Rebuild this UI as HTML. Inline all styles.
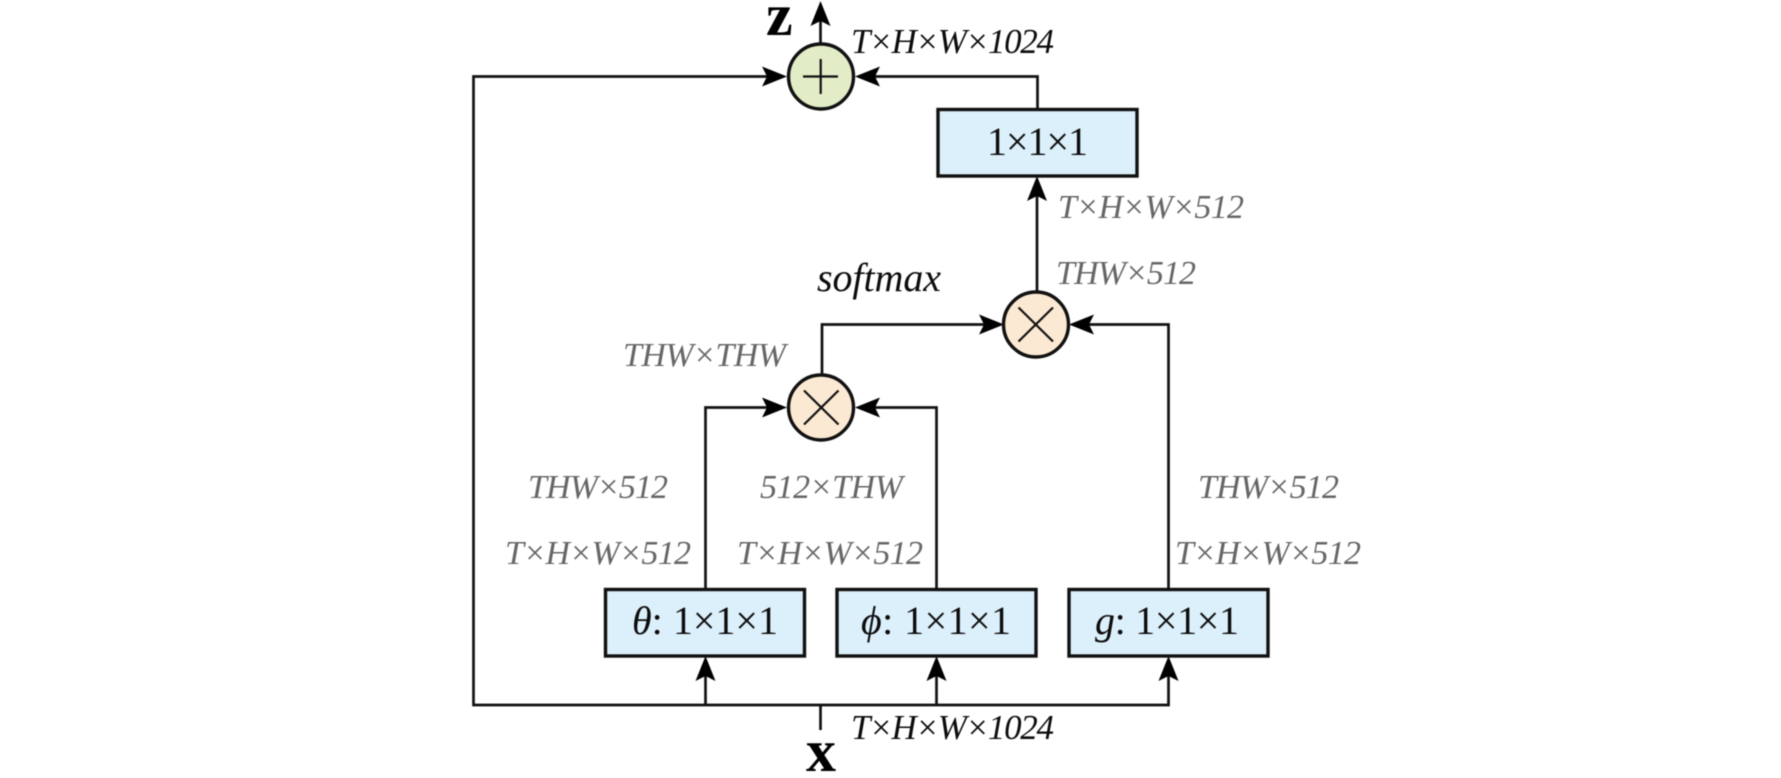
<!DOCTYPE html>
<html>
<head>
<meta charset="utf-8">
<style>
html,body{margin:0;padding:0;background:#fff;width:1781px;height:778px;overflow:hidden}
svg{display:block;filter:blur(0.6px)}
text{font-family:"Liberation Serif",serif}
.l{font-style:italic;font-size:34px;fill:#666}
.k{font-style:italic;font-size:35px;fill:#0c0c0c}
.s{font-style:italic;font-size:40px;fill:#0c0c0c}
.b{font-size:40px;fill:#0c0c0c}
.v{font-weight:bold;font-size:60px;fill:#000}
.w{fill:none;stroke:#111;stroke-width:2.7;stroke-linejoin:miter}
.box{fill:#dcf0fb;stroke:#111;stroke-width:3.4}
.c{stroke:#111;stroke-width:3.4}
.x{stroke:#111;stroke-width:2.2;fill:none}
.a{fill:#000}
</style>
</head>
<body>
<svg width="1781" height="778" viewBox="0 0 1781 778" xmlns="http://www.w3.org/2000/svg">
<rect width="1781" height="778" fill="#fff"/>

<!-- connectors -->
<path class="w" d="M820.5 705V730"/>
<path class="w" d="M770 76.5H473.5V705H1168.5V670"/>
<path class="w" d="M705.5 705V670"/>
<path class="w" d="M936.5 705V670"/>
<path class="w" d="M705.5 589V407.5H780"/>
<path class="w" d="M936.5 589V407.5H862"/>
<path class="w" d="M1168.5 589V324.5H1080"/>
<path class="w" d="M822 375V324.5H990"/>
<path class="w" d="M1037 292V190"/>
<path class="w" d="M1037.5 109V76.5H870"/>
<path class="w" d="M820.5 44V20"/>

<!-- arrowheads -->
<path class="a" d="M820.5 1l10 25-10-5-10 5z"/>
<path class="a" d="M787 76.5l-25-10 5 10-5 10z"/>
<path class="a" d="M855 76.5l25-10-5 10 5 10z"/>
<path class="a" d="M1037 176l10 25-10-5-10 5z"/>
<path class="a" d="M1004 324.5l-25-10 5 10-5 10z"/>
<path class="a" d="M1069 324.5l25-10-5 10 5 10z"/>
<path class="a" d="M787 407.5l-25-10 5 10-5 10z"/>
<path class="a" d="M855 407.5l25-10-5 10 5 10z"/>
<path class="a" d="M705.5 656l10 25-10-5-10 5z"/>
<path class="a" d="M936.5 656l10 25-10-5-10 5z"/>
<path class="a" d="M1168.5 656l10 25-10-5-10 5z"/>

<!-- circles -->
<circle class="c" cx="821" cy="76.5" r="32.5" fill="#e2ecc6"/>
<path class="x" d="M803 76.5H838M820.7 59V94"/>
<circle class="c" cx="1036" cy="324.5" r="32.5" fill="#fce9d3"/>
<path class="x" d="M1018.5 307.5L1053 341.5M1053 307.5L1018.5 341.5"/>
<circle class="c" cx="821" cy="407.5" r="32.5" fill="#fce9d3"/>
<path class="x" d="M804 390.5L838.5 424.5M838.5 390.5L804 424.5"/>

<!-- boxes -->
<rect class="box" x="938" y="109.5" width="199" height="66.5"/>
<rect class="box" x="605.5" y="589.5" width="199" height="66.5"/>
<rect class="box" x="837" y="589.5" width="199" height="66.5"/>
<rect class="box" x="1069" y="589.5" width="199" height="66.5"/>

<!-- box text -->
<text class="b" x="987" y="155" textLength="101" lengthAdjust="spacing">1×1×1</text>
<text class="b" x="632" y="634" textLength="146" lengthAdjust="spacing"><tspan font-style="italic">θ</tspan>: 1×1×1</text>
<text class="b" x="861" y="634" textLength="150" lengthAdjust="spacing"><tspan font-style="italic">ϕ</tspan>: 1×1×1</text>
<text class="b" x="1095" y="634" textLength="144" lengthAdjust="spacing"><tspan font-style="italic">g</tspan>: 1×1×1</text>

<!-- vars -->
<text class="v" x="766" y="35">z</text>
<text class="v" x="806" y="771">x</text>

<!-- labels -->
<text class="k" x="851" y="53" textLength="203" lengthAdjust="spacing">T×H×W×1024</text>
<text class="k" x="851" y="739" textLength="203" lengthAdjust="spacing">T×H×W×1024</text>
<text class="s" x="817" y="291" textLength="124" lengthAdjust="spacing">softmax</text>
<text class="l" x="1058" y="218" textLength="186" lengthAdjust="spacing">T×H×W×512</text>
<text class="l" x="1056" y="284" textLength="140" lengthAdjust="spacing">THW×512</text>
<text class="l" x="623" y="366" textLength="163" lengthAdjust="spacing">THW×THW</text>
<text class="l" x="528" y="498" textLength="140" lengthAdjust="spacing">THW×512</text>
<text class="l" x="760" y="498" textLength="143" lengthAdjust="spacing">512×THW</text>
<text class="l" x="1198" y="498" textLength="141" lengthAdjust="spacing">THW×512</text>
<text class="l" x="505" y="564" textLength="186" lengthAdjust="spacing">T×H×W×512</text>
<text class="l" x="737" y="564" textLength="186" lengthAdjust="spacing">T×H×W×512</text>
<text class="l" x="1175" y="564" textLength="186" lengthAdjust="spacing">T×H×W×512</text>
</svg>
</body>
</html>
